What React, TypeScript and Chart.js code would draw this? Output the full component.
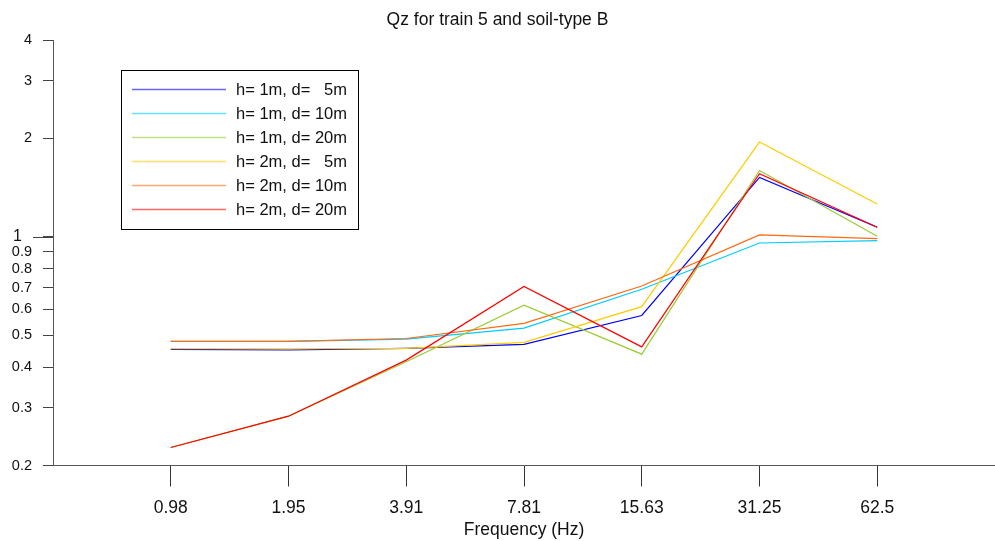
import React, { useEffect, useRef } from "react";
import { Chart, registerables } from "chart.js";

Chart.register(...registerables);

const categories = ["0.98", "1.95", "3.91", "7.81", "15.63", "31.25", "62.5"];

const seriesLabels = [
  "h= 1m, d=   5m",
  "h= 1m, d= 10m",
  "h= 1m, d= 20m",
  "h= 2m, d=   5m",
  "h= 2m, d= 10m",
  "h= 2m, d= 20m",
];

const h1d5 = [0.453, 0.451, 0.456, 0.469, 0.575, 1.52, 1.07];
const h1d10 = [0.479, 0.479, 0.487, 0.526, 0.692, 0.958, 0.974];
const h1d20 = [0.227, 0.283, 0.415, 0.618, 0.438, 1.596, 1.004];
const h2d5 = [0.455, 0.455, 0.456, 0.476, 0.612, 1.95, 1.26];
const h2d10 = [0.479, 0.479, 0.489, 0.544, 0.708, 1.014, 0.988];
const h2d20 = [0.227, 0.283, 0.42, 0.705, 0.461, 1.56, 1.07];

const seriesValues = [h1d5, h1d10, h1d20, h2d5, h2d10, h2d20];
const seriesColors = ["#0000ff", "#00ccff", "#99cc33", "#ffcc00", "#ff6a10", "#ff0000"];

const yTickValues = [0.2, 0.3, 0.4, 0.5, 0.6, 0.7, 0.8, 0.9, 1, 2, 3, 4];
const yTickLabels = ["0.2", "0.3", "0.4", "0.5", "0.6", "0.7", "0.8", "0.9", "1", "2", "3", "4"];

const FONT = '"Liberation Sans", Arial, Helvetica, sans-serif';

const decorPlugin = {
  id: "decor",
  afterDraw(chart: any) {
    const ctx = chart.ctx;
    const ys = chart.scales.y;
    ctx.save();
    // y tick labels and long tick for 1
    ctx.fillStyle = "#111";
    ctx.textAlign = "right";
    ctx.textBaseline = "middle";
    yTickValues.forEach((v, i) => {
      const py = ys.getPixelForValue(v);
      const major = v === 1;
      const tickStart = major ? 33 : 43;
      if (major) {
        ctx.strokeStyle = "#444";
        ctx.lineWidth = 1;
        ctx.beginPath();
        ctx.moveTo(tickStart, Math.round(py) + 0.5);
        ctx.lineTo(ys.right, Math.round(py) + 0.5);
        ctx.stroke();
      }
      ctx.font = (major ? "16px " : "14.5px ") + FONT;
      ctx.fillText(yTickLabels[i], tickStart - 11, py);
    });
    // legend
    const bx = 121.5, by = 70.5, bw = 237, bh = 159;
    ctx.fillStyle = "#fff";
    ctx.fillRect(bx, by, bw, bh);
    ctx.strokeStyle = "#000";
    ctx.lineWidth = 1;
    ctx.strokeRect(bx, by, bw, bh);
    ctx.font = "16.5px " + FONT;
    ctx.textAlign = "left";
    ctx.textBaseline = "middle";
    chart.data.datasets.forEach((ds: any, i: number) => {
      const ry = 89.5 + i * 24;
      ctx.strokeStyle = ds.borderColor;
      ctx.globalAlpha = 0.6;
      ctx.lineWidth = 1.5;
      ctx.beginPath();
      ctx.moveTo(132, ry);
      ctx.lineTo(226, ry);
      ctx.stroke();
      ctx.globalAlpha = 1;
      ctx.fillStyle = "#111";
      ctx.fillText(ds.label, 236, ry + 1);
    });
    ctx.restore();
  },
};

export default function App() {
  const ref = useRef<HTMLCanvasElement | null>(null);
  useEffect(() => {
    document.body.style.margin = "0";
    if (!ref.current) return;
    const chart = new Chart(ref.current, {
      type: "line",
      data: {
        datasets: seriesValues.map((vals, i) => ({
          label: seriesLabels[i],
          data: vals.map((v, j) => ({ x: j + 1, y: v })),
          borderColor: seriesColors[i],
          backgroundColor: seriesColors[i],
          borderWidth: 1.2,
          pointRadius: 0,
          tension: 0,
          fill: false,
          order: seriesValues.length - i,
        })),
      },
      options: {
        responsive: false,
        animation: false,
        layout: { padding: 0 },
        plugins: {
          legend: { display: false },
          tooltip: { enabled: false },
          title: {
            display: true,
            text: "Qz for train 5 and soil-type B",
            color: "#111",
            font: { family: FONT, size: 17.5, weight: "normal" },
            padding: { top: 10, bottom: 9 },
          },
        },
        scales: {
          x: {
            type: "linear",
            min: 0,
            max: categories.length + 1,
            afterBuildTicks: (axis: any) => {
              axis.ticks = categories.map((_, i) => ({ value: i + 1 }));
            },
            afterFit: (scale: any) => {
              scale.height = 75.5;
            },
            ticks: {
              autoSkip: false,
              maxRotation: 0,
              padding: 11,
              color: "#111",
              font: { family: FONT, size: 17.5 },
              callback: (v: any) => categories[Math.round(Number(v)) - 1] ?? "",
            },
            grid: {
              drawOnChartArea: false,
              drawTicks: true,
              tickLength: 21,
              color: "#333",
            },
            border: { display: true, color: "#555", width: 1 },
            title: {
              display: true,
              text: "Frequency (Hz)",
              color: "#111",
              font: { family: FONT, size: 17.5 },
              padding: 0,
            },
          },
          y: {
            type: "logarithmic",
            min: 0.2,
            max: 4,
            afterBuildTicks: (axis: any) => {
              axis.ticks = yTickValues.map((v) => ({ value: v }));
            },
            afterFit: (scale: any) => {
              scale.width = 53;
            },
            ticks: { display: false },
            grid: {
              drawOnChartArea: false,
              drawTicks: true,
              tickLength: 10,
              color: "#444",
            },
            border: { display: true, color: "#555", width: 1 },
          },
        },
      },
      plugins: [decorPlugin],
    } as any);
    return () => chart.destroy();
  }, []);
  return (
    <div style={{ width: 995, height: 541 }}>
      <canvas ref={ref} width={995} height={541} />
    </div>
  );
}
